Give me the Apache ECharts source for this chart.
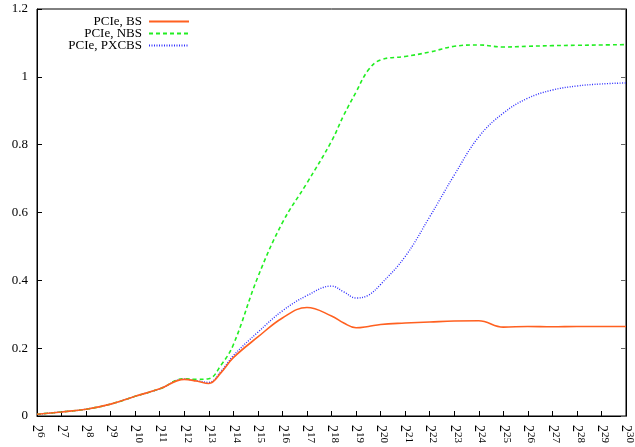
<!DOCTYPE html>
<html><head><meta charset="utf-8">
<script src="https://cdn.jsdelivr.net/npm/echarts@6/dist/echarts.min.js"></script>
<style>html,body{margin:0;padding:0;background:#fff}#c{width:635px;height:447px}</style>
</head><body><div id="c"></div>
<script>
const exponents = [6,7,8,9,10,11,12,12.5,13,13.5,14,15,16,17,18,18.5,19,19.5,20,21,22,23,24,25,26,27,28,29,30];
const bsValues  = [0.005,0.012,0.02,0.035,0.058,0.08,0.108,0.103,0.096,0.128,0.172,0.233,0.289,0.32,0.295,0.274,0.26,0.264,0.27,0.274,0.277,0.28,0.281,0.262,0.264,0.263,0.264,0.264,0.264];
const nbsValues = [0.005,0.012,0.02,0.035,0.058,0.08,0.11,0.108,0.11,0.15,0.21,0.41,0.57,0.687,0.81,0.887,0.955,1.02,1.05,1.06,1.073,1.09,1.094,1.088,1.09,1.092,1.093,1.094,1.095];
const pxcValues = [0.005,0.012,0.02,0.035,0.058,0.08,0.109,0.104,0.099,0.132,0.178,0.247,0.31,0.355,0.383,0.366,0.348,0.356,0.388,0.47,0.587,0.71,0.823,0.893,0.937,0.961,0.973,0.979,0.982];
const seriesNames = ['PCIe, BS','PCIe, NBS','PCIe, PXCBS'];
const xMin = 6, xMax = 30;

const font = 'Liberation Serif';
const pair = (xs, ys) => xs.map((x,i)=>[x, ys[i]]);
const chart = echarts.init(document.getElementById('c'));
const legendBase = (name, top) => ({
  data:[name], right: 445, top: top, orient:'vertical', itemGap:0,
  itemWidth:40, itemHeight:10, align:'right', padding:0,
  itemStyle:{opacity:0},
  textStyle:{fontFamily:font, fontSize:13, color:'#000', padding:[0,2,0,0]}
});
chart.setOption({
  animation:false,
  grid:{left:37, right:3, top:9, bottom:31, show:true, borderColor:'#000', borderWidth:1},
  legend:[legendBase(seriesNames[0],15), legendBase(seriesNames[1],27), legendBase(seriesNames[2],39)],
  xAxis:{type:'value', min:xMin, max:xMax, interval:1,
    axisLine:{show:true, lineStyle:{color:'#000'}},
    axisTick:{show:true, inside:true, length:5, lineStyle:{color:'#000'}},
    splitLine:{show:false},
    axisLabel:{rotate:-90, margin:9, color:'#000', fontFamily:font, fontSize:14,
      formatter:v=>'{b|2}{s|'+v+'}',
      rich:{b:{fontFamily:font,fontSize:14,color:'#000'}, s:{fontFamily:font,fontSize:11,color:'#000',padding:[0,0,7,0]}}}
  },
  yAxis:[{type:'value', min:0, max:1.2, interval:0.2,
    axisLine:{show:true, lineStyle:{color:'#000'}},
    axisTick:{show:true, inside:true, length:5, lineStyle:{color:'#000'}},
    splitLine:{show:false},
    axisLabel:{color:'#000', fontFamily:font, fontSize:13, margin:9,
      formatter:v=>String(Math.round(v*10)/10)}
  },{type:'value', min:0, max:1.2, interval:0.2, position:'right',
    axisLine:{show:true, lineStyle:{color:'#000'}},
    axisTick:{show:true, inside:true, length:5, lineStyle:{color:'#666'}},
    axisLabel:{show:false}, splitLine:{show:false}}],
  series:[
    {name:seriesNames[0], type:'line', smooth:0.4, showSymbol:false, symbol:'none', data:pair(exponents,bsValues),
      lineStyle:{color:'#ff6020', width:1.6}, itemStyle:{color:'#ff6020'}, z:3},
    {name:seriesNames[1], type:'line', smooth:0.4, showSymbol:false, symbol:'none', data:pair(exponents,nbsValues),
      lineStyle:{color:'#22ee22', width:1.6, type:[4,3]}, itemStyle:{color:'#22ee22'}, z:2},
    {name:seriesNames[2], type:'line', smooth:0.4, showSymbol:false, symbol:'none', data:pair(exponents,pxcValues),
      lineStyle:{color:'#3030ff', width:1.4, type:[1,1.5]}, itemStyle:{color:'#3030ff'}, z:1}
  ]
});
</script></body></html>
